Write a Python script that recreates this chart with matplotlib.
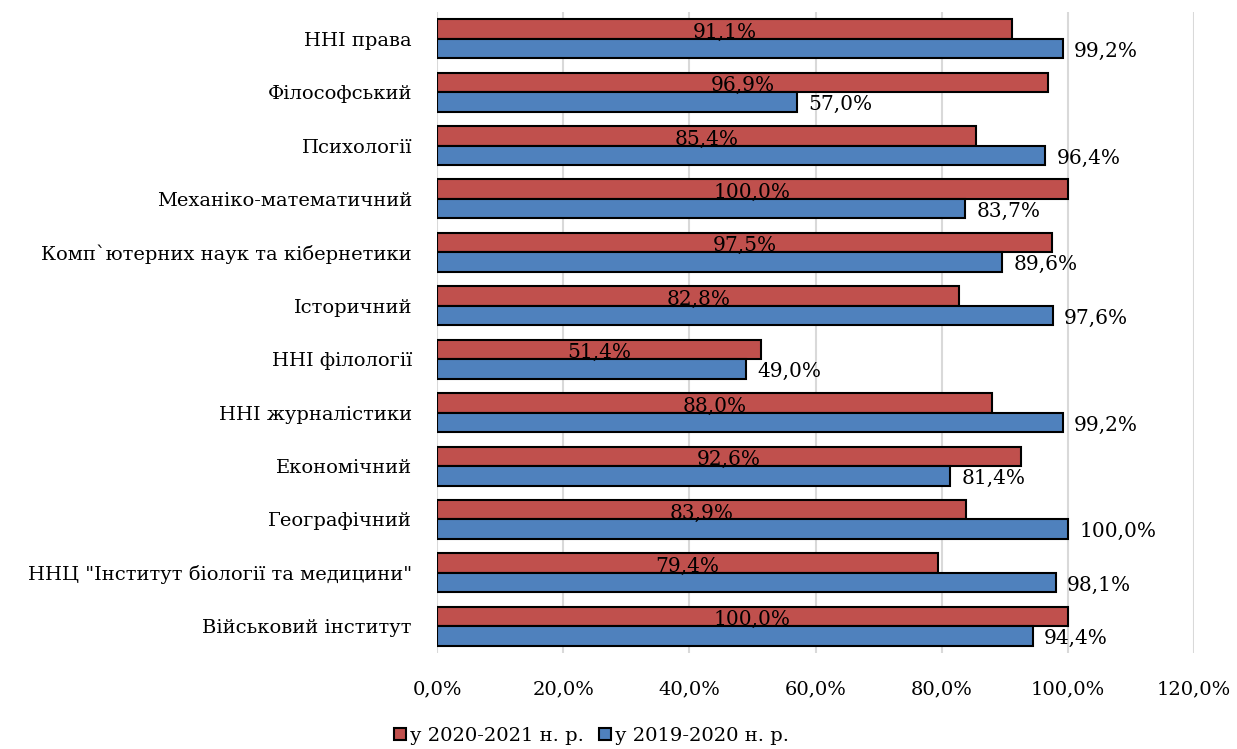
import matplotlib.pyplot as plt
import numpy as np

# Дані: частка (%) по факультетах, зверху вниз
факультети = [
    "ННІ права",
    "Філософський",
    "Психології",
    "Механіко-математичний",
    "Комп`ютерних наук та кібернетики",
    "Історичний",
    "ННІ філології",
    "ННІ журналістики",
    "Економічний",
    "Географічний",
    'ННЦ "Інститут біології та медицини"',
    "Військовий інститут",
]
рік_2020_2021 = [91.1, 96.9, 85.4, 100.0, 97.5, 82.8, 51.4, 88.0, 92.6, 83.9, 79.4, 100.0]
рік_2019_2020 = [99.2, 57.0, 96.4, 83.7, 89.6, 97.6, 49.0, 99.2, 81.4, 100.0, 98.1, 94.4]
назви_серій = ["у 2020-2021 н. р.", "у 2019-2020 н. р."]
підписи_x = [0, 20, 40, 60, 80, 100, 120]

plt.rcParams['font.family'] = ['DejaVu Serif']
plt.rcParams['font.size'] = 14

fig = plt.figure(figsize=(12.37, 7.49), dpi=100)
ax = fig.add_axes([437 / 1237, 1 - 653 / 749, (1194 - 437) / 1237, (653 - 12) / 749])

n = len(факультети)
y = np.arange(n)[::-1].astype(float)
h = 0.365

червоний = '#C0504D'
синій = '#4F81BD'

b1 = ax.barh(y + h / 2, рік_2020_2021, height=h, color=червоний,
             edgecolor='black', linewidth=1.5, label=назви_серій[0], zorder=3)
b2 = ax.barh(y - h / 2, рік_2019_2020, height=h, color=синій,
             edgecolor='black', linewidth=1.5, label=назви_серій[1], zorder=3)

# Підписи значень
for yi, v in zip(y, рік_2020_2021):
    ax.text(v / 2, yi + h / 2 - 0.06, f'{v:.1f}%'.replace('.', ','),
            ha='center', va='center', fontsize=14.5, zorder=4)
for yi, v in zip(y, рік_2019_2020):
    ax.text(v + 1.8, yi - h / 2 - 0.05, f'{v:.1f}%'.replace('.', ','),
            ha='left', va='center', fontsize=14.5, zorder=4)

ax.set_xlim(0, 120)
ax.set_ylim(-0.5, n - 0.5)
ax.set_xticks(підписи_x)
ax.set_xticklabels([f'{t:.1f}%'.replace('.', ',') for t in підписи_x])
ax.set_yticks(y)
ax.set_yticklabels(факультети)
ax.tick_params(axis='both', length=0)
ax.tick_params(axis='x', pad=20)
ax.tick_params(axis='y', pad=18)

ax.grid(axis='x', color='#D9D9D9', linewidth=1.5, zorder=0)
for s in ax.spines.values():
    s.set_visible(False)

fig.legend(handles=[b1, b2], labels=назви_серій, loc='lower center',
           bbox_to_anchor=(0.478, -0.005), ncol=2, frameon=False,
           handlelength=0.6, handleheight=0.6, handletextpad=0.2,
           columnspacing=0.8, fontsize=14, borderaxespad=0.0)

fig.savefig('out.png', dpi=100)
